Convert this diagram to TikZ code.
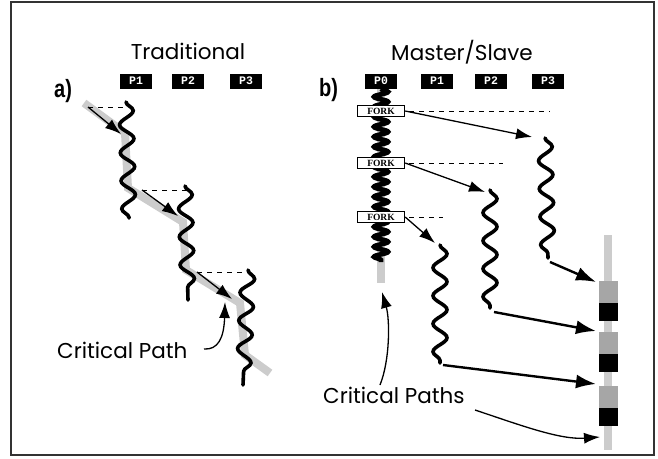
\documentclass[tikz,border=0pt]{standalone}
\usepackage{fontspec}
\setmainfont{Poppins}
\newfontfamily\procfont{Liberation Mono}
\newfontfamily\forkfont{Liberation Serif}
\newfontfamily\partfont[FakeStretch=0.8]{Liberation Sans}
\usetikzlibrary{arrows.meta,decorations.pathmorphing}

\begin{document}
\begin{tikzpicture}[x=1pt,y=-1pt,
  proc/.style={fill=black,text=white,font=\procfont\bfseries\fontsize{11.5}{11.5}\selectfont,minimum width=32pt,minimum height=15pt,inner sep=0pt},
  fork/.style={draw,fill=white,line width=1.4pt,font=\forkfont\bfseries\fontsize{9.5}{9.5}\selectfont,minimum width=47pt,minimum height=11pt,inner sep=0pt},
  thread/.style={line width=3.6pt,line cap=round,decorate,decoration={snake,segment length=28pt,amplitude=7pt}},
  master/.style={line width=4.8pt,decorate,decoration={snake,segment length=10pt,amplitude=7pt}},
  crit/.style={line width=8pt,black!20},
  wait/.style={line width=0.8pt,dash pattern=on 5pt off 5pt},
  spawn/.style={line width=1.3pt,-{Latex[length=16pt,width=11pt]}},
  merge/.style={line width=2.4pt,-{Latex[length=20pt,width=14pt]}},
  title/.style={font=\fontsize{21.5}{21.5}\selectfont,inner sep=0pt},
  tag/.style={font=\partfont\bfseries\fontsize{25}{25}\selectfont,inner sep=0pt}]

\useasboundingbox (0,0) rectangle (658,458);
\draw[line width=1.5pt,black!80] (11,2) rectangle (654,455);

% a) traditional
\node[title,anchor=base] (trad) at (188,59) {Traditional};
\node[tag,anchor=base west] (pa) at (54,97) {a)};
\node[proc] (a1) at (136,81) {P1};
\node[proc] (a2) at (188,81) {P2};
\node[proc] (a3) at (246,81) {P3};

\draw[crit] (84,103) -- (125,133) -- (128,188) -- (183,222) -- (186,270) -- (240,303) -- (245,355) -- (270,373);

\coordinate (a1s) at (126,102);
\coordinate (a1e) at (129,218);
\coordinate (a2s) at (185,186);
\coordinate (a2e) at (188,300);
\coordinate (a3s) at (248,270);
\coordinate (a3e) at (243,385);
\draw[thread] (a1s) -- (a1e);
\draw[thread] (a2s) -- (a2e);
\draw[thread] (a3s) -- (a3e);

\coordinate (a1w) at (88,107);
\coordinate (a2w) at (142,190);
\coordinate (a3w) at (197,272);
\draw[wait] (a1w) -- (128,107);
\draw[wait] (a2w) -- (187,190);
\draw[wait] (a3w) -- (250,272);
\draw[spawn] (a1w) -- (121,134);
\draw[spawn] (a2w) -- (178,216);
\draw[spawn] (a3w) -- (232,299);

\node[title,anchor=base west] (cpa) at (57,358) {Critical Path};
\draw[spawn] (204,349) .. controls (218,350) and (224,338) .. (225,302);

% b) master/slave
\node[title,anchor=base] (msl) at (462,60) {Master/Slave};
\node[tag,anchor=base west] (pb) at (319,96) {b)};
\node[proc] (b0) at (381,81) {P0};
\node[proc] (b1) at (437,81) {P1};
\node[proc] (b2) at (491,81) {P2};
\node[proc] (b3) at (548,81) {P3};

\draw[crit] (b0.south) -- (381,283);
\draw[master] (b0.south) -- (381,262);

\node[fork] (f1) at (381,111) {FORK};
\node[fork] (f2) at (381,163) {FORK};
\node[fork] (f3) at (381,217) {FORK};
\draw[wait] ([xshift=4pt]f1.east) -- (550,111);
\draw[wait] ([xshift=4pt]f2.east) -- (503,163);
\draw[wait] ([xshift=4pt]f3.east) -- (443,217);

\coordinate (b3s) at (545,138);
\coordinate (b3e) at (548,258);
\coordinate (b2s) at (490,190);
\coordinate (b2e) at (490,308);
\coordinate (b1s) at (440,245);
\coordinate (b1e) at (440,363);
\draw[thread] (b3s) -- (b3e);
\draw[thread] (b2s) -- (b2e);
\draw[thread] (b1s) -- (b1e);
\draw[spawn] (f1.east) -- (532,137);
\draw[spawn] (f2.east) -- (485,192);
\draw[spawn] (f3.east) -- (435,243);

% result bar
\fill[black!20] (604,235) rectangle (612,450);
\foreach \y in {281,332,386} {
  \fill[black!35] (599,\y) rectangle (618,\y+22);
  \fill[black] (599,\y+22) rectangle (618,\y+40);
}
\coordinate (r3) at (596,282);
\coordinate (r2) at (596,331);
\coordinate (r1) at (596,384);
\draw[merge] (b3e) ++(2,4) -- (r3);
\draw[merge] (b2e) ++(4,4) -- (r2);
\draw[merge] (b1e) ++(3,2) -- (r1);

\node[title,anchor=base west] (cpb) at (323,403) {Critical Paths};
\draw[spawn] (380,385) .. controls (390,360) and (390,320) .. (382,292);
\draw[spawn] (475,410) .. controls (520,425) and (560,440) .. (600,437);
\end{tikzpicture}
\end{document}
